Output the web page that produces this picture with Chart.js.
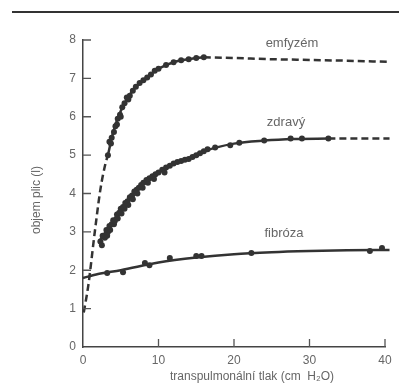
<!DOCTYPE html>
<html>
<head>
<meta charset="utf-8">
<script src="https://cdn.jsdelivr.net/npm/chart.js@4/dist/chart.umd.min.js"></script>
<style>
  body { margin: 0; background: #fff; }
</style>
</head>
<body>
<canvas id="chart" width="399" height="389"></canvas>
<script>
// tick values
const xTicks = [0, 10, 20, 30, 40];
const yTicks = [0, 1, 2, 3, 4, 5, 6, 7, 8];

// curve names
const curveNames = ["emfyzém", "zdravý", "fibróza"];

// emfyzém: measured points, fitted curve, dashed extrapolations
const emfyzemPoints = [
  [3.3, 5.0], [3.5, 5.35], [3.7, 5.3], [3.8, 5.45], [4.1, 5.6], [4.3, 5.75],
  [4.5, 5.8], [4.6, 5.95], [4.9, 6.05], [5.0, 6.0], [5.2, 6.25], [5.5, 6.35],
  [5.8, 6.5], [6.0, 6.45], [6.2, 6.55], [6.6, 6.68], [7.0, 6.78], [7.5, 6.88],
  [8.0, 6.95], [8.5, 7.02], [9.0, 7.1], [9.5, 7.2], [10.0, 7.25], [11.0, 7.35],
  [12.0, 7.42], [13.0, 7.47], [14.0, 7.5], [15.0, 7.53], [16.0, 7.55]
];
const emfyzemCurve = [
  [3.3, 5.0], [4, 5.6], [5, 6.15], [6, 6.52], [7, 6.78], [8, 6.95],
  [10, 7.25], [12, 7.42], [14, 7.5], [16, 7.55]
];
const emfyzemDashLow = [[0.1, 0.9], [0.7, 1.6], [1.5, 2.9], [2.3, 4.1], [3.0, 4.8], [3.3, 5.0]];
const emfyzemDashHigh = [[16, 7.55], [20, 7.53], [25, 7.5], [30, 7.48], [35, 7.46], [40.6, 7.43]];

// zdravý
const zdravyPoints = [
  [2.3, 2.75], [2.5, 2.65], [2.6, 2.9], [2.9, 2.85], [3.1, 3.05], [3.2, 2.9],
  [3.3, 3.0], [3.5, 3.15], [3.6, 3.05], [3.8, 3.2], [4.0, 3.3], [4.1, 3.2],
  [4.2, 3.28], [4.5, 3.45], [4.6, 3.35], [4.8, 3.5], [5.0, 3.6], [5.1, 3.48],
  [5.3, 3.65], [5.5, 3.6], [5.6, 3.75], [5.9, 3.8], [6.0, 3.7], [6.2, 3.9],
  [6.5, 3.95], [6.6, 3.85], [6.8, 4.05], [7.1, 4.1], [7.2, 4.0], [7.4, 4.15],
  [7.7, 4.22], [7.9, 4.15], [8.0, 4.28], [8.4, 4.35], [8.6, 4.28], [8.8, 4.4],
  [9.2, 4.45], [9.4, 4.38], [9.6, 4.5], [10.0, 4.55], [10.5, 4.62], [10.8, 4.55],
  [11.0, 4.68], [11.5, 4.72], [12.0, 4.78], [12.5, 4.82], [13.0, 4.85], [13.5, 4.88],
  [14.0, 4.9], [14.5, 4.95], [15.0, 5.0], [15.5, 5.05], [16.0, 5.1], [16.5, 5.15],
  [17.5, 5.2], [19.5, 5.26], [20.7, 5.32], [24.0, 5.38], [27.5, 5.43], [29.0, 5.43],
  [32.5, 5.43]
];
const zdravyCurve = [
  [2.3, 2.8], [4, 3.3], [6, 3.85], [8, 4.27], [10, 4.55], [12, 4.77],
  [14, 4.92], [16, 5.1], [20, 5.3], [24, 5.38], [28, 5.42], [32.5, 5.43]
];
const zdravyDash = [[32.5, 5.43], [40.6, 5.43]];

// fibróza
const fibrozaPoints = [
  [3.2, 1.93], [5.3, 1.95], [8.2, 2.19], [8.8, 2.13], [11.5, 2.32],
  [15.0, 2.37], [15.7, 2.37], [22.3, 2.45], [38.0, 2.5], [39.6, 2.58]
];
const fibrozaCurve = [
  [0, 1.8], [2, 1.9], [5, 2.0], [10, 2.2], [15, 2.33], [20, 2.42],
  [25, 2.47], [30, 2.5], [35, 2.52], [40.6, 2.53]
];

const ink = "#333";
const toXY = (arr) => arr.map(([x, y]) => ({ x, y }));

function curve(data, dashed) {
  return {
    data: toXY(data),
    showLine: true,
    borderColor: ink,
    borderWidth: 2.5,
    borderDash: dashed ? [7, 4] : [],
    pointRadius: 0,
    tension: 0.4,
    cubicInterpolationMode: "monotone",
    clip: false,
  };
}

function markers(data) {
  return {
    data: toXY(data),
    showLine: false,
    pointRadius: 3,
    pointBackgroundColor: ink,
    pointBorderWidth: 0,
    clip: false,
  };
}

// extra drawing: top rule, inward ticks, curve names, axis titles
const decor = {
  id: "decor",
  beforeDraw(chart) {
    const ctx = chart.ctx;
    ctx.save();
    ctx.strokeStyle = "#333";
    ctx.lineWidth = 2;
    ctx.beginPath();
    ctx.moveTo(12, 12);
    ctx.lineTo(399, 12);
    ctx.stroke();
    ctx.restore();
  },
  afterDraw(chart) {
    const { ctx, chartArea, scales: { x, y } } = chart;
    ctx.save();
    ctx.strokeStyle = "#555";
    ctx.lineWidth = 1.3;
    ctx.beginPath();
    yTicks.slice(1).forEach((v) => {
      const py = y.getPixelForValue(v);
      ctx.moveTo(chartArea.left, py);
      ctx.lineTo(chartArea.left + 8, py);
    });
    xTicks.slice(1).forEach((v) => {
      const px = x.getPixelForValue(v);
      ctx.moveTo(px, chartArea.bottom);
      ctx.lineTo(px, chartArea.bottom - 8);
    });
    ctx.stroke();

    ctx.fillStyle = "#666";
    ctx.font = "13px 'Liberation Sans', Arial, sans-serif";
    ctx.textAlign = "center";
    ctx.textBaseline = "middle";
    ctx.fillText(curveNames[0], 292, 43);
    ctx.fillText(curveNames[1], 286, 122);
    ctx.fillText(curveNames[2], 284, 233);

    ctx.font = "12px 'Liberation Sans', Arial, sans-serif";
    ctx.fillText("transpulmonální tlak (cm  H\u2082O)", 252, 377);
    ctx.translate(37, 200);
    ctx.rotate(-Math.PI / 2);
    ctx.fillText("objem plic (l)", 0, 0);
    ctx.restore();
  },
};

new Chart(document.getElementById("chart"), {
  type: "scatter",
  data: {
    datasets: [
      curve(emfyzemDashLow, true),
      curve(emfyzemCurve, false),
      curve(emfyzemDashHigh, true),
      markers(emfyzemPoints),
      curve(zdravyCurve, false),
      curve(zdravyDash, true),
      markers(zdravyPoints),
      curve(fibrozaCurve, false),
      markers(fibrozaPoints),
    ],
  },
  options: {
    responsive: false,
    animation: false,
    layout: { padding: { top: 40, right: 14, left: 0, bottom: 0 } },
    plugins: { legend: { display: false }, tooltip: { enabled: false } },
    scales: {
      x: {
        type: "linear",
        min: 0,
        max: 40,
        afterFit: (s) => { s.height = 42; },
        afterBuildTicks: (s) => { s.ticks = xTicks.map((v) => ({ value: v })); },
        ticks: { color: "#666", font: { size: 12, family: "'Liberation Sans', Arial" }, padding: 6 },
        grid: { drawOnChartArea: false, drawTicks: false },
        border: { color: "#444", width: 1.5 },
      },
      y: {
        min: 0,
        max: 8,
        afterFit: (s) => { s.width = 83; },
        afterBuildTicks: (s) => { s.ticks = yTicks.map((v) => ({ value: v })); },
        ticks: { color: "#666", font: { size: 12, family: "'Liberation Sans', Arial" }, padding: 7 },
        grid: { drawOnChartArea: false, drawTicks: false },
        border: { color: "#444", width: 1.5 },
      },
    },
  },
  plugins: [decor],
});
</script>
</body>
</html>
